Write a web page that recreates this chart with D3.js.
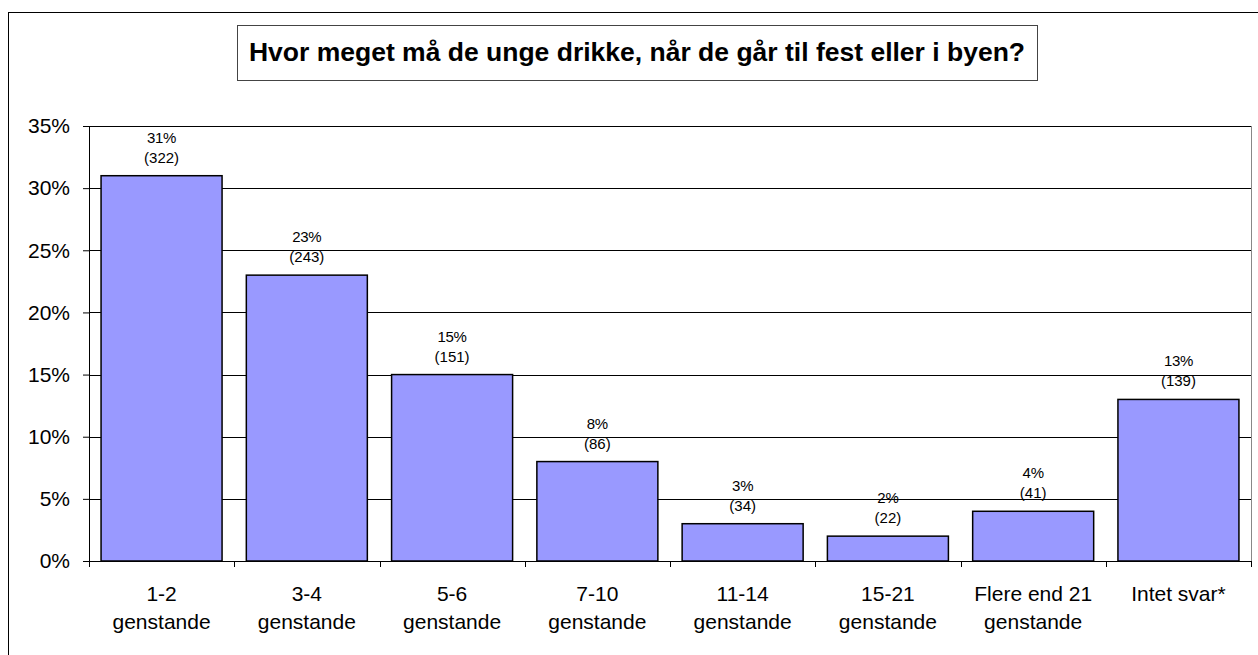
<!DOCTYPE html>
<html>
<head>
<meta charset="utf-8">
<script src="https://cdn.jsdelivr.net/npm/d3@7"></script>
<style>
  body { margin: 0; background: #fff; }
  svg { display: block; font-family: "Liberation Sans", Arial, sans-serif; }
</style>
</head>
<body>
<div id="chart"></div>
<script>
const categories = ["1-2|genstande", "3-4|genstande", "5-6|genstande", "7-10|genstande",
    "11-14|genstande", "15-21|genstande", "Flere end 21|genstande", "Intet svar*"];
const percents = [31, 23, 15, 8, 3, 2, 4, 13];
const counts = [322, 243, 151, 86, 34, 22, 41, 139];
const yTicks = [0, 5, 10, 15, 20, 25, 30, 35];
const title = "Hvor meget må de unge drikke, når de går til fest eller i byen?";

const width = 1258, height = 655;
const margin = { top: 126, right: 7, bottom: 94, left: 89 };
const plotW = width - margin.left - margin.right;
const plotH = height - margin.top - margin.bottom;

const data = categories.map((c, i) => ({ cat: c, pct: percents[i], n: counts[i] }));

const svg = d3.select("#chart").append("svg")
    .attr("width", width)
    .attr("height", height);

// outer frame
svg.append("rect")
    .attr("x", 8.5).attr("y", 12.5)
    .attr("width", 1300).attr("height", 700)
    .attr("fill", "none").attr("stroke", "#000").attr("stroke-width", 1);

// title box
const titleG = svg.append("g");
titleG.append("rect")
    .attr("x", 237.5).attr("y", 25.5)
    .attr("width", 800).attr("height", 55)
    .attr("fill", "#fff").attr("stroke", "#444").attr("stroke-width", 1);
titleG.append("text")
    .attr("x", 637).attr("y", 61)
    .attr("text-anchor", "middle")
    .style("font-size", "26.5px")
    .style("font-weight", "bold")
    .text(title);

const g = svg.append("g").attr("transform", `translate(${margin.left},${margin.top})`);

const x = d3.scaleBand().domain(categories).range([0, plotW]).paddingInner(0.167).paddingOuter(0.083);
const y = d3.scaleLinear().domain([0, 35]).range([plotH, 0]);

// gridlines
g.append("g")
    .selectAll("line")
    .data(yTicks.filter(d => d > 0))
    .join("line")
    .attr("x1", 0).attr("x2", plotW)
    .attr("y1", d => Math.round(y(d)) + 0.5).attr("y2", d => Math.round(y(d)) + 0.5)
    .attr("stroke", "#000").attr("stroke-width", 1);

// plot right edge
g.append("line")
    .attr("x1", plotW + 0.5).attr("x2", plotW + 0.5)
    .attr("y1", 0).attr("y2", plotH)
    .attr("stroke", "#888").attr("stroke-width", 1);

// bars
g.selectAll(".bar")
    .data(data)
    .join("rect")
    .attr("class", "bar")
    .attr("x", d => x(d.cat))
    .attr("y", d => y(d.pct))
    .attr("width", x.bandwidth())
    .attr("height", d => y(0) - y(d.pct))
    .attr("fill", "#9999FF")
    .attr("stroke", "#000")
    .attr("stroke-width", 1.5);

// value labels
const lbl = g.selectAll(".lbl")
    .data(data)
    .join("g")
    .attr("class", "lbl")
    .attr("transform", d => `translate(${x(d.cat) + x.bandwidth() / 2},${y(d.pct)})`);
lbl.append("text")
    .attr("y", -33)
    .attr("text-anchor", "middle")
    .style("font-size", "15px")
    .style("letter-spacing", "-0.3px")
    .text(d => d.pct + "%");
lbl.append("text")
    .attr("y", -13)
    .attr("text-anchor", "middle")
    .style("font-size", "15px")
    .text(d => "(" + d.n + ")");

// y axis
const yAxis = g.append("g")
    .call(d3.axisLeft(y).tickValues(yTicks).tickSize(6).tickPadding(13).tickFormat(d => d + "%"));
yAxis.select(".domain").attr("d", `M0.5,0V${plotH}`).attr("stroke", "#000");
yAxis.selectAll("text").style("font-size", "21px").attr("fill", "#000");

// x axis
const xAxisG = g.append("g").attr("transform", `translate(0,${plotH})`);
xAxisG.append("line")
    .attr("x1", 0).attr("x2", plotW + 1)
    .attr("y1", 0.5).attr("y2", 0.5)
    .attr("stroke", "#000");
const boundaries = d3.range(categories.length + 1).map(i => i * x.step());
xAxisG.selectAll(".xtick")
    .data(boundaries)
    .join("line")
    .attr("class", "xtick")
    .attr("x1", d => Math.round(d) + 0.5).attr("x2", d => Math.round(d) + 0.5)
    .attr("y1", 0).attr("y2", 6)
    .attr("stroke", "#000");
const xl = xAxisG.selectAll(".xlabel")
    .data(categories)
    .join("text")
    .attr("class", "xlabel")
    .attr("text-anchor", "middle")
    .attr("transform", d => `translate(${x(d) + x.bandwidth() / 2},40)`)
    .style("font-size", "21px");
xl.selectAll("tspan")
    .data(d => d.split("|"))
    .join("tspan")
    .attr("x", 0)
    .attr("dy", (d, i) => i === 0 ? 0 : 28)
    .text(d => d);
</script>
</body>
</html>
